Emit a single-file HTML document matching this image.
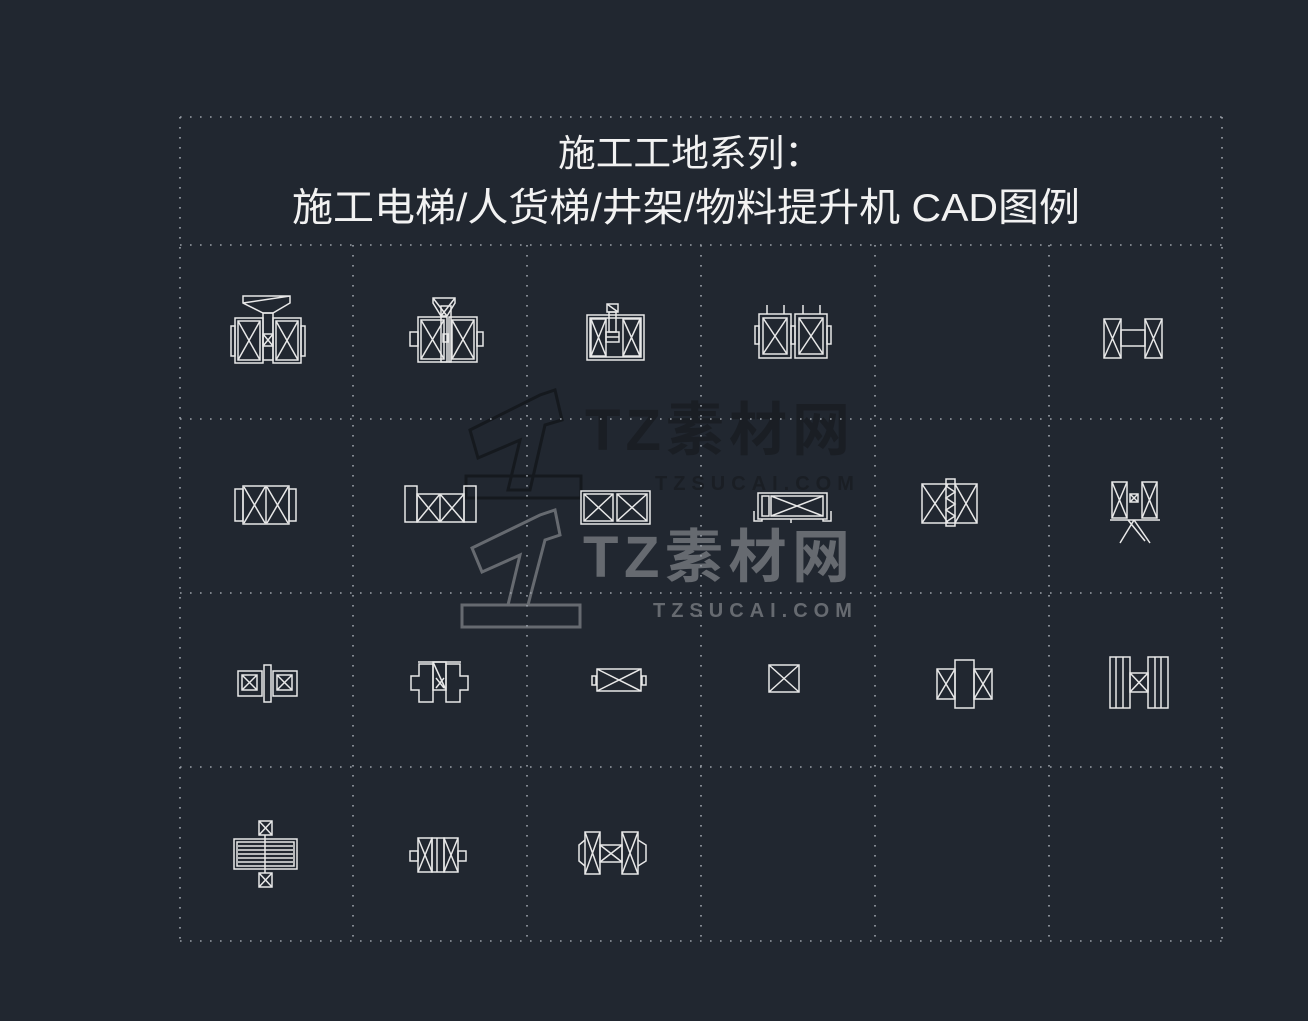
<!DOCTYPE html>
<html><head><meta charset="utf-8"><style>
html,body{margin:0;padding:0;background:#212730;}
svg{display:block}
</style></head><body>
<svg width="1308" height="1021" viewBox="0 0 1308 1021" xmlns="http://www.w3.org/2000/svg">
<rect width="1308" height="1021" fill="#212730"/>
<!-- watermark -->
<g font-family="Liberation Sans, Noto Sans CJK SC, sans-serif" font-weight="bold">
<text x="585" y="450" font-size="58" fill="#1a1e24" textLength="265">TZ素材网</text>
<text x="655" y="490" font-size="20" fill="#1a1e24" letter-spacing="6">TZSUCAI.COM</text>
<text x="583" y="577" font-size="58" fill="#666a70" textLength="267">TZ素材网</text>
<text x="653" y="617" font-size="20" fill="#666a70" letter-spacing="6">TZSUCAI.COM</text>
</g>
<g fill="none" stroke="#15191e" stroke-width="3">
<path d="M470 430 L540 395 L555 390 L562 420 L545 425 L530 490 L508 490 L520 440 L478 458 Z"/>
<rect x="466" y="476" width="115" height="22"/>
</g>
<g fill="none" stroke="#666a70" stroke-width="3">
<path d="M472 548 L540 515 L555 510 L560 535 L545 540 L528 605 L508 605 L520 555 L482 572 Z"/>
<rect x="462" y="605" width="118" height="22"/>
</g>
<!-- grid -->
<g stroke="#9aa0a8" stroke-width="1.6" stroke-dasharray="1.6 8.4" fill="none">
<path d="M180 117 H1222 M180 245 H1222 M180 419 H1222 M180 593 H1222 M180 767 H1222 M180 941 H1222"/>
<path d="M180 117 V941 M1222 117 V941 M353 245 V941 M527 245 V941 M701 245 V941 M875 245 V941 M1049 245 V941"/>
</g>
<!-- title -->
<g font-family="Liberation Sans, Noto Sans CJK SC, sans-serif" fill="#f2f2f2">
<text x="558" y="166" font-size="37" textLength="264" lengthAdjust="spacingAndGlyphs">施工工地系列：</text>
<text x="292" y="221" font-size="39" textLength="788" lengthAdjust="spacingAndGlyphs">施工电梯/人货梯/井架/物料提升机 CAD图例</text>
</g>
<!-- icons -->
<g fill="none" stroke="#e8e8e8" stroke-width="1.5">
<rect x="235" y="318" width="28" height="45"/><rect x="238" y="321" width="22" height="39"/><path d="M238 321 L260 360 M260 321 L238 360"/>
<rect x="273" y="318" width="28" height="45"/><rect x="276" y="321" width="22" height="39"/><path d="M276 321 L298 360 M298 321 L276 360"/>
<rect x="231" y="326" width="4" height="30"/><rect x="301" y="326" width="4" height="30"/>
<rect x="263" y="313" width="10" height="47"/><rect x="263" y="334" width="10" height="12"/><path d="M263 334 L273 346 M273 334 L263 346"/>
<path d="M243 296 L290 296 L290 303 L273 313 L263 313 L243 303 Z M243 303 L290 296"/>
<rect x="418" y="317" width="29" height="45"/><path d="M421 320 L444 359 M444 320 L421 359"/><rect x="421" y="320" width="23" height="39"/>
<rect x="449" y="317" width="28" height="45"/><rect x="452" y="320" width="22" height="39"/><path d="M452 320 L474 359 M474 320 L452 359"/>
<rect x="410" y="332" width="8" height="14"/><rect x="477" y="332" width="6" height="14"/>
<rect x="441" y="306" width="10" height="56"/><rect x="443" y="334" width="5" height="8"/>
<path d="M433 298 L455 298 L455 303 L447 316 L441 316 L433 303 Z M433 298 L447 316 M455 298 L441 316"/>
<rect x="587" y="315" width="57" height="45"/><rect x="590" y="318" width="51" height="39"/>
<rect x="591" y="319" width="15" height="37"/><path d="M591 319 L606 356 M606 319 L591 356"/>
<rect x="623" y="319" width="17" height="37"/><path d="M623 319 L640 356 M640 319 L623 356"/>
<rect x="607" y="304" width="11" height="8"/><path d="M607 304 L618 312"/><rect x="609" y="312" width="7" height="20"/><rect x="606" y="332" width="13" height="10"/><path d="M606 337 H619"/>
<rect x="759" y="314" width="32" height="44"/><rect x="763" y="318" width="24" height="36"/><path d="M763 318 L787 354 M787 318 L763 354"/>
<rect x="795" y="314" width="32" height="44"/><rect x="799" y="318" width="24" height="36"/><path d="M799 318 L823 354 M823 318 L799 354"/>
<rect x="755" y="326" width="4" height="18"/><rect x="791" y="326" width="4" height="18"/><rect x="827" y="326" width="4" height="18"/>
<path d="M767 305 V314 M784 305 V314 M803 305 V314 M820 305 V314"/>
<rect x="1104" y="319" width="17" height="39"/><path d="M1104 319 L1121 358 M1121 319 L1104 358"/>
<rect x="1145" y="319" width="17" height="39"/><path d="M1145 319 L1162 358 M1162 319 L1145 358"/>
<rect x="1121" y="330" width="24" height="16"/>
<rect x="243" y="486" width="46" height="38"/><rect x="235" y="489" width="8" height="32"/><rect x="289" y="489" width="7" height="32"/>
<path d="M266 486 V524 M244 487 L265 523 M265 487 L244 523 M267 487 L288 523 M288 487 L267 523" />
<rect x="405" y="486" width="12" height="36"/><rect x="464" y="486" width="12" height="36"/>
<rect x="417" y="494" width="47" height="28"/><path d="M440 494 V522 M417 494 L440 522 M440 494 L417 522 M440 494 L464 522 M464 494 L440 522"/>
<rect x="581" y="491" width="69" height="33"/>
<rect x="584" y="494" width="29" height="27"/><path d="M584 494 L613 521 M613 494 L584 521"/>
<rect x="617" y="494" width="30" height="27"/><path d="M617 494 L647 521 M647 494 L617 521"/>
<rect x="758" y="493" width="69" height="26"/><rect x="762" y="496" width="7" height="20"/><rect x="771" y="496" width="52" height="20"/><path d="M771 496 L823 516 M823 496 L771 516"/>
<path d="M754 511 V521 H762 V519 M831 511 V521 H823 V519 M791 519 V523"/>
<rect x="922" y="484" width="55" height="39"/><path d="M922 484 L948 523 M948 484 L922 523 M955 484 L977 523 M977 484 L955 523"/>
<rect x="946" y="479" width="9" height="47"/><path d="M946 486 L955 492 L946 498 L955 504 L946 510 L955 516 L946 522"/>
<rect x="1112" y="482" width="15" height="36"/><path d="M1112 482 L1127 518 M1127 482 L1112 518"/>
<rect x="1142" y="482" width="15" height="36"/><path d="M1142 482 L1157 518 M1157 482 L1142 518"/>
<rect x="1130" y="494" width="8" height="8"/><path d="M1130 494 L1138 502 M1138 494 L1130 502"/>
<path d="M1110 520 H1160 M1134 520 L1120 543 M1134 520 L1150 543 M1128 520 L1145 541"/>
<rect x="238" y="671" width="24" height="25"/><rect x="242" y="675" width="15" height="15"/><path d="M242 675 L257 690 M257 675 L242 690"/>
<rect x="273" y="671" width="24" height="25"/><rect x="277" y="675" width="15" height="15"/><path d="M277 675 L292 690 M292 675 L277 690"/>
<rect x="264" y="665" width="7" height="37"/>
<path d="M419 664 H433 V702 H419 V690 H411 V676 H419 Z M446 664 H460 V676 H468 V690 H460 V702 H446 Z"/>
<rect x="433" y="662" width="13" height="28"/><path d="M433 662 L446 690 M436 678 L444 688 M444 678 L436 688 M418 662 H461"/>
<rect x="597" y="669" width="44" height="22"/><path d="M597 669 L641 691 M641 669 L597 691"/>
<rect x="592" y="676" width="4" height="9"/><rect x="642" y="676" width="4" height="9"/>
<rect x="769" y="665" width="30" height="27"/><path d="M769 665 L799 692 M799 665 L769 692"/>
<rect x="937" y="669" width="18" height="30"/><path d="M937 669 L955 699 M955 669 L937 699"/>
<rect x="974" y="669" width="18" height="30"/><path d="M974 669 L992 699 M992 669 L974 699"/>
<rect x="955" y="660" width="19" height="48"/>
<rect x="1110" y="657" width="20" height="51"/><path d="M1116 657 V708 M1123 657 V708"/>
<rect x="1148" y="657" width="20" height="51"/><path d="M1155 657 V708 M1161 657 V708"/>
<rect x="1130" y="673" width="18" height="19"/><path d="M1130 673 L1148 692 M1148 673 L1130 692"/>
<rect x="234" y="839" width="63" height="30"/><rect x="237" y="842" width="57" height="24"/>
<path d="M238 846 H293 M238 850 H293 M238 854 H293 M238 858 H293 M238 862 H293 M265 835 V873"/>
<rect x="259" y="821" width="13" height="14"/><path d="M259 821 L272 835 M272 821 L259 835"/>
<rect x="259" y="873" width="13" height="14"/><path d="M259 873 L272 887 M272 873 L259 887"/>
<rect x="418" y="838" width="14" height="34"/><path d="M418 838 L432 872 M432 838 L418 872"/>
<rect x="444" y="838" width="14" height="34"/><path d="M444 838 L458 872 M458 838 L444 872"/>
<rect x="432" y="838" width="12" height="34"/><path d="M437 838 V872"/>
<rect x="410" y="851" width="8" height="10"/><rect x="458" y="851" width="8" height="10"/>
<rect x="585" y="832" width="15" height="42"/><path d="M585 832 L600 874 M600 832 L585 874"/>
<rect x="622" y="832" width="16" height="42"/><path d="M622 832 L638 874 M638 832 L622 874"/>
<rect x="600" y="845" width="22" height="17"/><path d="M600 845 L622 862 M622 845 L600 862"/>
<path d="M585 840 L579 845 V861 L585 866 M638 840 L646 845 V861 L638 866"/>
</g>
</svg>
</body></html>
